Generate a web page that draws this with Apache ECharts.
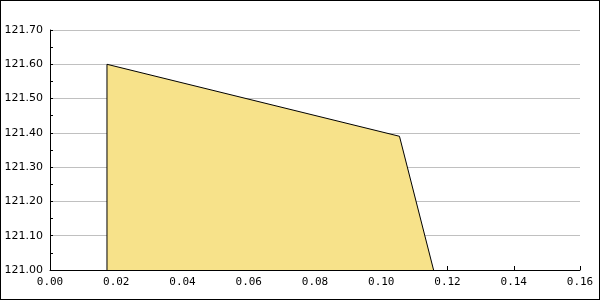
<!DOCTYPE html>
<html><head><meta charset="utf-8">
<script src="https://cdn.jsdelivr.net/npm/echarts@6/dist/echarts.min.js"></script>
<style>html,body{margin:0;padding:0;background:#fff}#c{width:598px;height:298px;border:1px solid #000}</style>
</head><body><div id="c"></div>
<script>
const xValues = [0.0172, 0.0172, 0.1055, 0.1158];
const yValues = [121.00, 121.60, 121.39, 121.00];
const xTicks = [0, 0.16, 0.02];
const yTicks = [121.0, 121.7, 0.1];

const chart = echarts.init(document.getElementById('c'), null, {renderer: 'canvas'});
chart.setOption({
  animation: false,
  backgroundColor: '#fff',
  grid: {left: 49, right: 19, top: 29, bottom: 29, containLabel: false},
  xAxis: {
    type: 'value', min: xTicks[0], max: xTicks[1], interval: xTicks[2],
    axisLine: {show: true, lineStyle: {color: '#000', width: 1}},
    axisTick: {show: true, inside: true, length: 4, lineStyle: {color: '#000'}},
    axisLabel: {color: '#000', fontFamily: 'DejaVu Sans Mono', fontSize: 11, margin: 7,
      formatter: v => v.toFixed(2)},
    splitLine: {show: false}
  },
  yAxis: {
    type: 'value', min: yTicks[0], max: yTicks[1], interval: yTicks[2],
    axisLine: {show: true, lineStyle: {color: '#000', width: 1}},
    axisTick: {show: true, inside: true, length: 3, lineStyle: {color: '#000'}},
    minorTick: {show: true, splitNumber: 2, length: 3, lineStyle: {color: '#000'}},
    axisLabel: {color: '#000', fontFamily: 'DejaVu Sans', fontSize: 11, margin: 7,
      formatter: v => v.toFixed(2)},
    splitLine: {show: true, lineStyle: {color: '#c0c0c0', width: 1}}
  },
  series: [{
    type: 'line',
    data: xValues.map((x, i) => [x, yValues[i]]),
    showSymbol: false,
    lineStyle: {color: '#000', width: 1},
    areaStyle: {color: '#f7e28a', opacity: 1, origin: 'start'},
    z: 3
  }]
});
</script></body></html>
